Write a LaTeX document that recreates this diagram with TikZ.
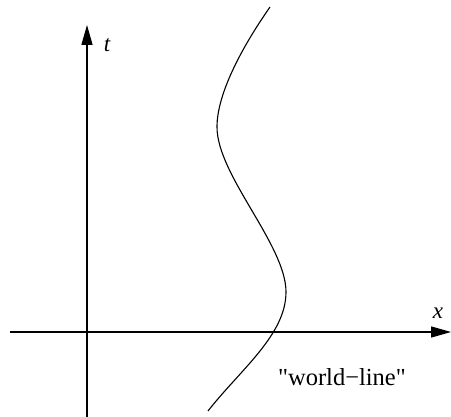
\documentclass[tikz,border=0pt]{standalone}
\usepackage{fontspec}
\setmainfont{Liberation Serif}
\usetikzlibrary{arrows.meta}

\begin{document}
\begin{tikzpicture}[
    x=1pt, y=-1pt,
    axis/.style={line width=1.3pt, -{Triangle[length=20pt, width=11pt]}},
    lbl/.style={inner sep=0pt, font=\fontsize{23}{25}\selectfont},
  ]
  \useasboundingbox (0,0) rectangle (451,417);
  \coordinate (xs) at (10,332);
  \coordinate (xe) at (451,332);
  \coordinate (ts) at (87,417);
  \coordinate (te) at (87,25);

  \draw[axis] (xs) -- (xe);
  \draw[axis] (ts) -- (te);
  \node[lbl] (tlab) at (107,45) {\itshape t};
  \node[lbl] (xlab) at (438,313) {\itshape x};

  % the world-line
  \coordinate (w0) at (270,7);
  \coordinate (w1) at (217,127);
  \coordinate (w2) at (286,292);
  \coordinate (w3) at (208,411);
  \draw[line width=1.1pt] (w0) .. controls (240,50) and (217,95) .. (w1)
    .. controls (217,175) and (286,245) .. (w2)
    .. controls (286,335) and (240,370) .. (w3);
  \node[lbl, anchor=base, font=\fontsize{24.5}{26}\selectfont] (wlab) at (342,386) {\textquotedbl world\textminus line\textquotedbl};
\end{tikzpicture}
\end{document}
